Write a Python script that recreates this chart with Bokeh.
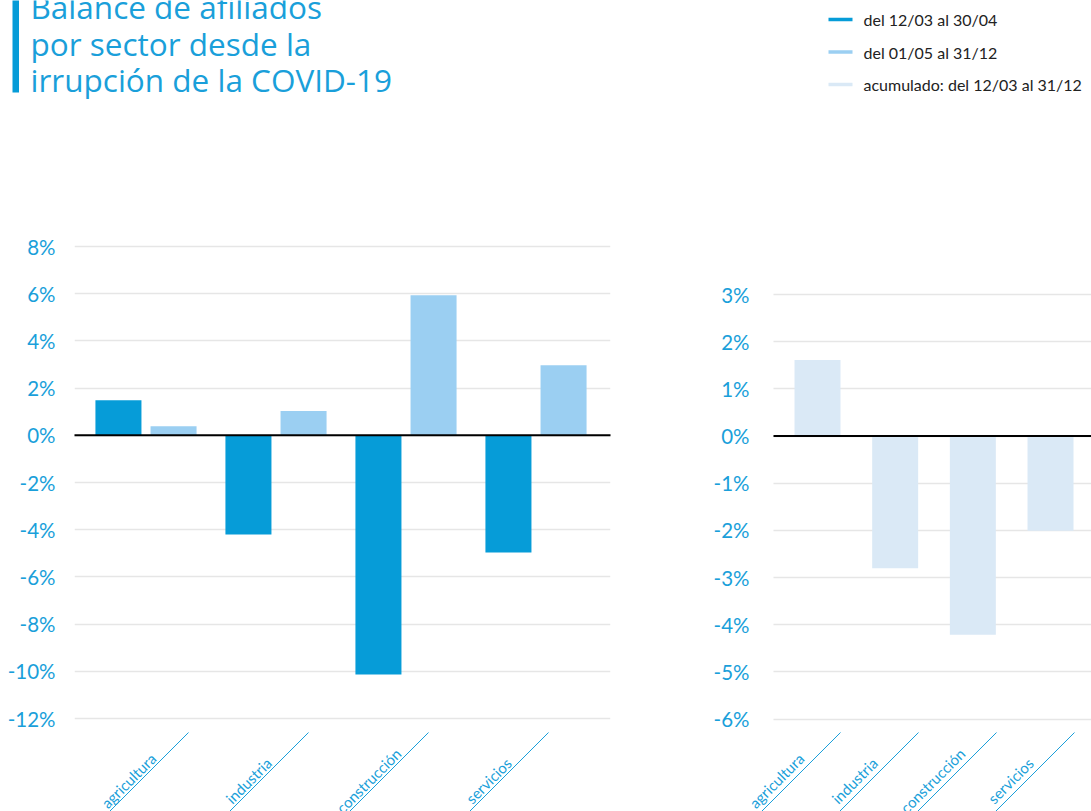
import numpy as np
from bokeh.plotting import figure
from bokeh.layouts import column, row
from bokeh.models import (Range1d, FixedTicker, CustomJSTickFormatter, ColumnDataSource,
                          LabelSet, Arrow)
from bokeh.transform import dodge
from bokeh.core.properties import value
from bokeh.embed import file_html
from bokeh.resources import INLINE

# ---------------- data ----------------
title_lines = ["Balance de afiliados", "por sector desde la", "irrupción de la COVID-19"]
sectors = ["agricultura", "industria", "construcción", "servicios"]
series_names = ["del 12/03 al 30/04", "del 01/05 al 31/12", "acumulado: del 12/03 al 31/12"]
first_period = [1.48, -4.2, -10.14, -4.97]      # del 12/03 al 30/04
second_period = [0.38, 1.03, 5.93, 2.97]        # del 01/05 al 31/12
cumulative = [1.61, -2.8, -4.21, -2.01]         # acumulado
left_ticks = [-12, -10, -8, -6, -4, -2, 0, 2, 4, 6, 8]
right_ticks = [-6, -5, -4, -3, -2, -1, 0, 1, 2, 3]

# ---------------- style ----------------
DARK = "#069cd8"
LIGHT = "#9bcff2"
PALE = "#dae9f6"
BLUE_TEXT = "#1a9fda"
FONT = "Lato"
series_colors = [DARK, LIGHT, PALE]

HDR_H = 200       # header height (page px)
TOP = 26          # frame top border inside chart figures
CH_H = 611        # chart figure height


def chart(width, b_left, b_right, x_start, x_end, y_start, y_end, ticks, grid_x0, standoff):
    p = figure(width=width, height=CH_H, output_backend="svg", toolbar_location=None,
               x_range=Range1d(x_start, x_end), y_range=Range1d(y_start, y_end),
               x_axis_location=None,
               min_border_left=b_left, min_border_right=b_right,
               min_border_top=TOP, min_border_bottom=0)
    p.outline_line_color = None
    p.xgrid.visible = False
    p.ygrid.ticker = FixedTicker(ticks=ticks)
    p.ygrid.grid_line_color = "#e6e6e6"
    p.ygrid.grid_line_width = 1.5
    p.ygrid.cross_bounds = (grid_x0, x_end)
    p.yaxis.ticker = FixedTicker(ticks=ticks)
    p.yaxis.formatter = CustomJSTickFormatter(code="return tick + '%';")
    p.yaxis.axis_line_color = None
    p.yaxis.major_tick_line_color = None
    p.yaxis.minor_tick_line_color = None
    p.yaxis.major_label_standoff = standoff
    p.yaxis.major_label_text_font = FONT
    p.yaxis.major_label_text_font_size = "20.5px"
    p.yaxis.major_label_text_color = BLUE_TEXT
    return p


def zero_line(p, grid_x0, x_end):
    p.segment(x0=[grid_x0], y0=[0], x1=[x_end], y1=[0], line_color="black", line_width=2,
              level="overlay")


def add_category_labels(p, frame_w, x_start, x_end, y_start, y_end, first_dx_px, step_px, text_dx_px):
    """Diagonal underlined category labels below the bars (offsets in screen px)."""
    pxx = frame_w / (x_end - x_start)
    pxy = (CH_H - TOP) / (y_end - y_start)
    idx = np.arange(len(sectors))
    line_top_y = y_end - (732 - HDR_H - TOP) / pxy
    x0 = (first_dx_px + idx * step_px) / pxx
    src = ColumnDataSource(dict(
        x0=x0, y0=[line_top_y] * len(idx),
        x1=x0 - 110 / pxx, y1=[line_top_y - 110 / pxy] * len(idx),
        tx=x0 + text_dx_px / pxx, ty=[line_top_y - 48 / pxy] * len(idx),
        name=sectors))
    p.add_layout(Arrow(x_start="x0", y_start="y0", x_end="x1", y_end="y1", end=None,
                       line_color=BLUE_TEXT, line_width=1, source=src))
    p.add_layout(LabelSet(x="tx", y="ty", text="name", source=src, angle=np.pi / 4,
                          text_align="center", text_baseline="middle",
                          text_font=value(FONT), text_font_size=value("15px"),
                          text_color=value(BLUE_TEXT)))


# ---------------- header ----------------
hdr = figure(width=1091, height=HDR_H, output_backend="svg", toolbar_location=None,
             x_range=Range1d(0, 1091), y_range=Range1d(HDR_H, 0),
             x_axis_location=None, y_axis_location=None,
             min_border_left=0, min_border_right=0,
             min_border_top=0, min_border_bottom=0)
hdr.outline_line_color = None
hdr.grid.visible = False
hdr.quad(left=[12], right=[18.5], top=[-5], bottom=[92], fill_color=DARK, line_color=None)
hdr.text(x=[30] * 3, y=[6, 43, 79], text=title_lines, text_font=value("Open Sans"),
         text_font_size="31.5px", text_color=BLUE_TEXT, text_baseline="middle")
leg_y = [19, 51.5, 84]
hdr.segment(x0=[828] * 3, y0=leg_y, x1=[852] * 3, y1=leg_y, line_color=series_colors, line_width=3.5)
hdr.text(x=[863] * 3, y=leg_y, text=series_names, text_font=value(FONT),
         text_font_size="16px", text_color="#222222", text_baseline="middle")

# ---------------- left chart ----------------
L_W, L_BL, L_BR = 690, 74, 80
l_frame = L_W - L_BL - L_BR
l_px = 130.0
lx0 = -(145.5 - 74) / l_px
lx1 = lx0 + l_frame / l_px
l_pxy = 23.6
ly1 = 8 + (246 - HDR_H - TOP) / l_pxy
ly0 = ly1 - (CH_H - TOP) / l_pxy
left = chart(L_W, L_BL, L_BR, lx0, lx1, ly0, ly1, left_ticks, lx0, 13)
src = ColumnDataSource(dict(x=np.arange(len(sectors)), a=first_period, b=second_period))
left.vbar(x=dodge("x", -0.212, range=left.x_range), top="a", bottom=0, width=0.354,
          source=src, fill_color=DARK, line_color=None)
left.vbar(x=dodge("x", 0.212, range=left.x_range), top="b", bottom=0, width=0.354,
          source=src, fill_color=LIGHT, line_color=None)
zero_line(left, lx0, lx1)
add_category_labels(left, l_frame, lx0, lx1, ly0, ly1, 42.5, 120, -60)

# ---------------- right chart ----------------
# frame starts further left (page x 735) so the first label is not clipped;
# grid lines and zero line still start at page x 773 like the original
R_W, R_BL, R_BR = 401, 45, 0
r_frame = R_W - R_BL - R_BR
r_px = 77.67
rx0 = -(817 - 735) / r_px
rx1 = rx0 + r_frame / r_px
r_grid0 = -(817 - 773) / r_px
r_pxy = 47.18
ry1 = 3 + (294 - HDR_H - TOP) / r_pxy
ry0 = ry1 - (CH_H - TOP) / r_pxy
right = chart(R_W, R_BL, R_BR, rx0, rx1, ry0, ry1, right_ticks, r_grid0, -20)
right.vbar(x=np.arange(len(sectors)), top=cumulative, bottom=0, width=0.592,
           fill_color=PALE, line_color=None)
zero_line(right, r_grid0, rx1)
add_category_labels(right, r_frame, rx0, rx1, ry0, ry1, 23, 78, -64)

layout = column(hdr, row(left, right, spacing=0), spacing=0)
open("out.html", "w").write(file_html(layout, INLINE))
